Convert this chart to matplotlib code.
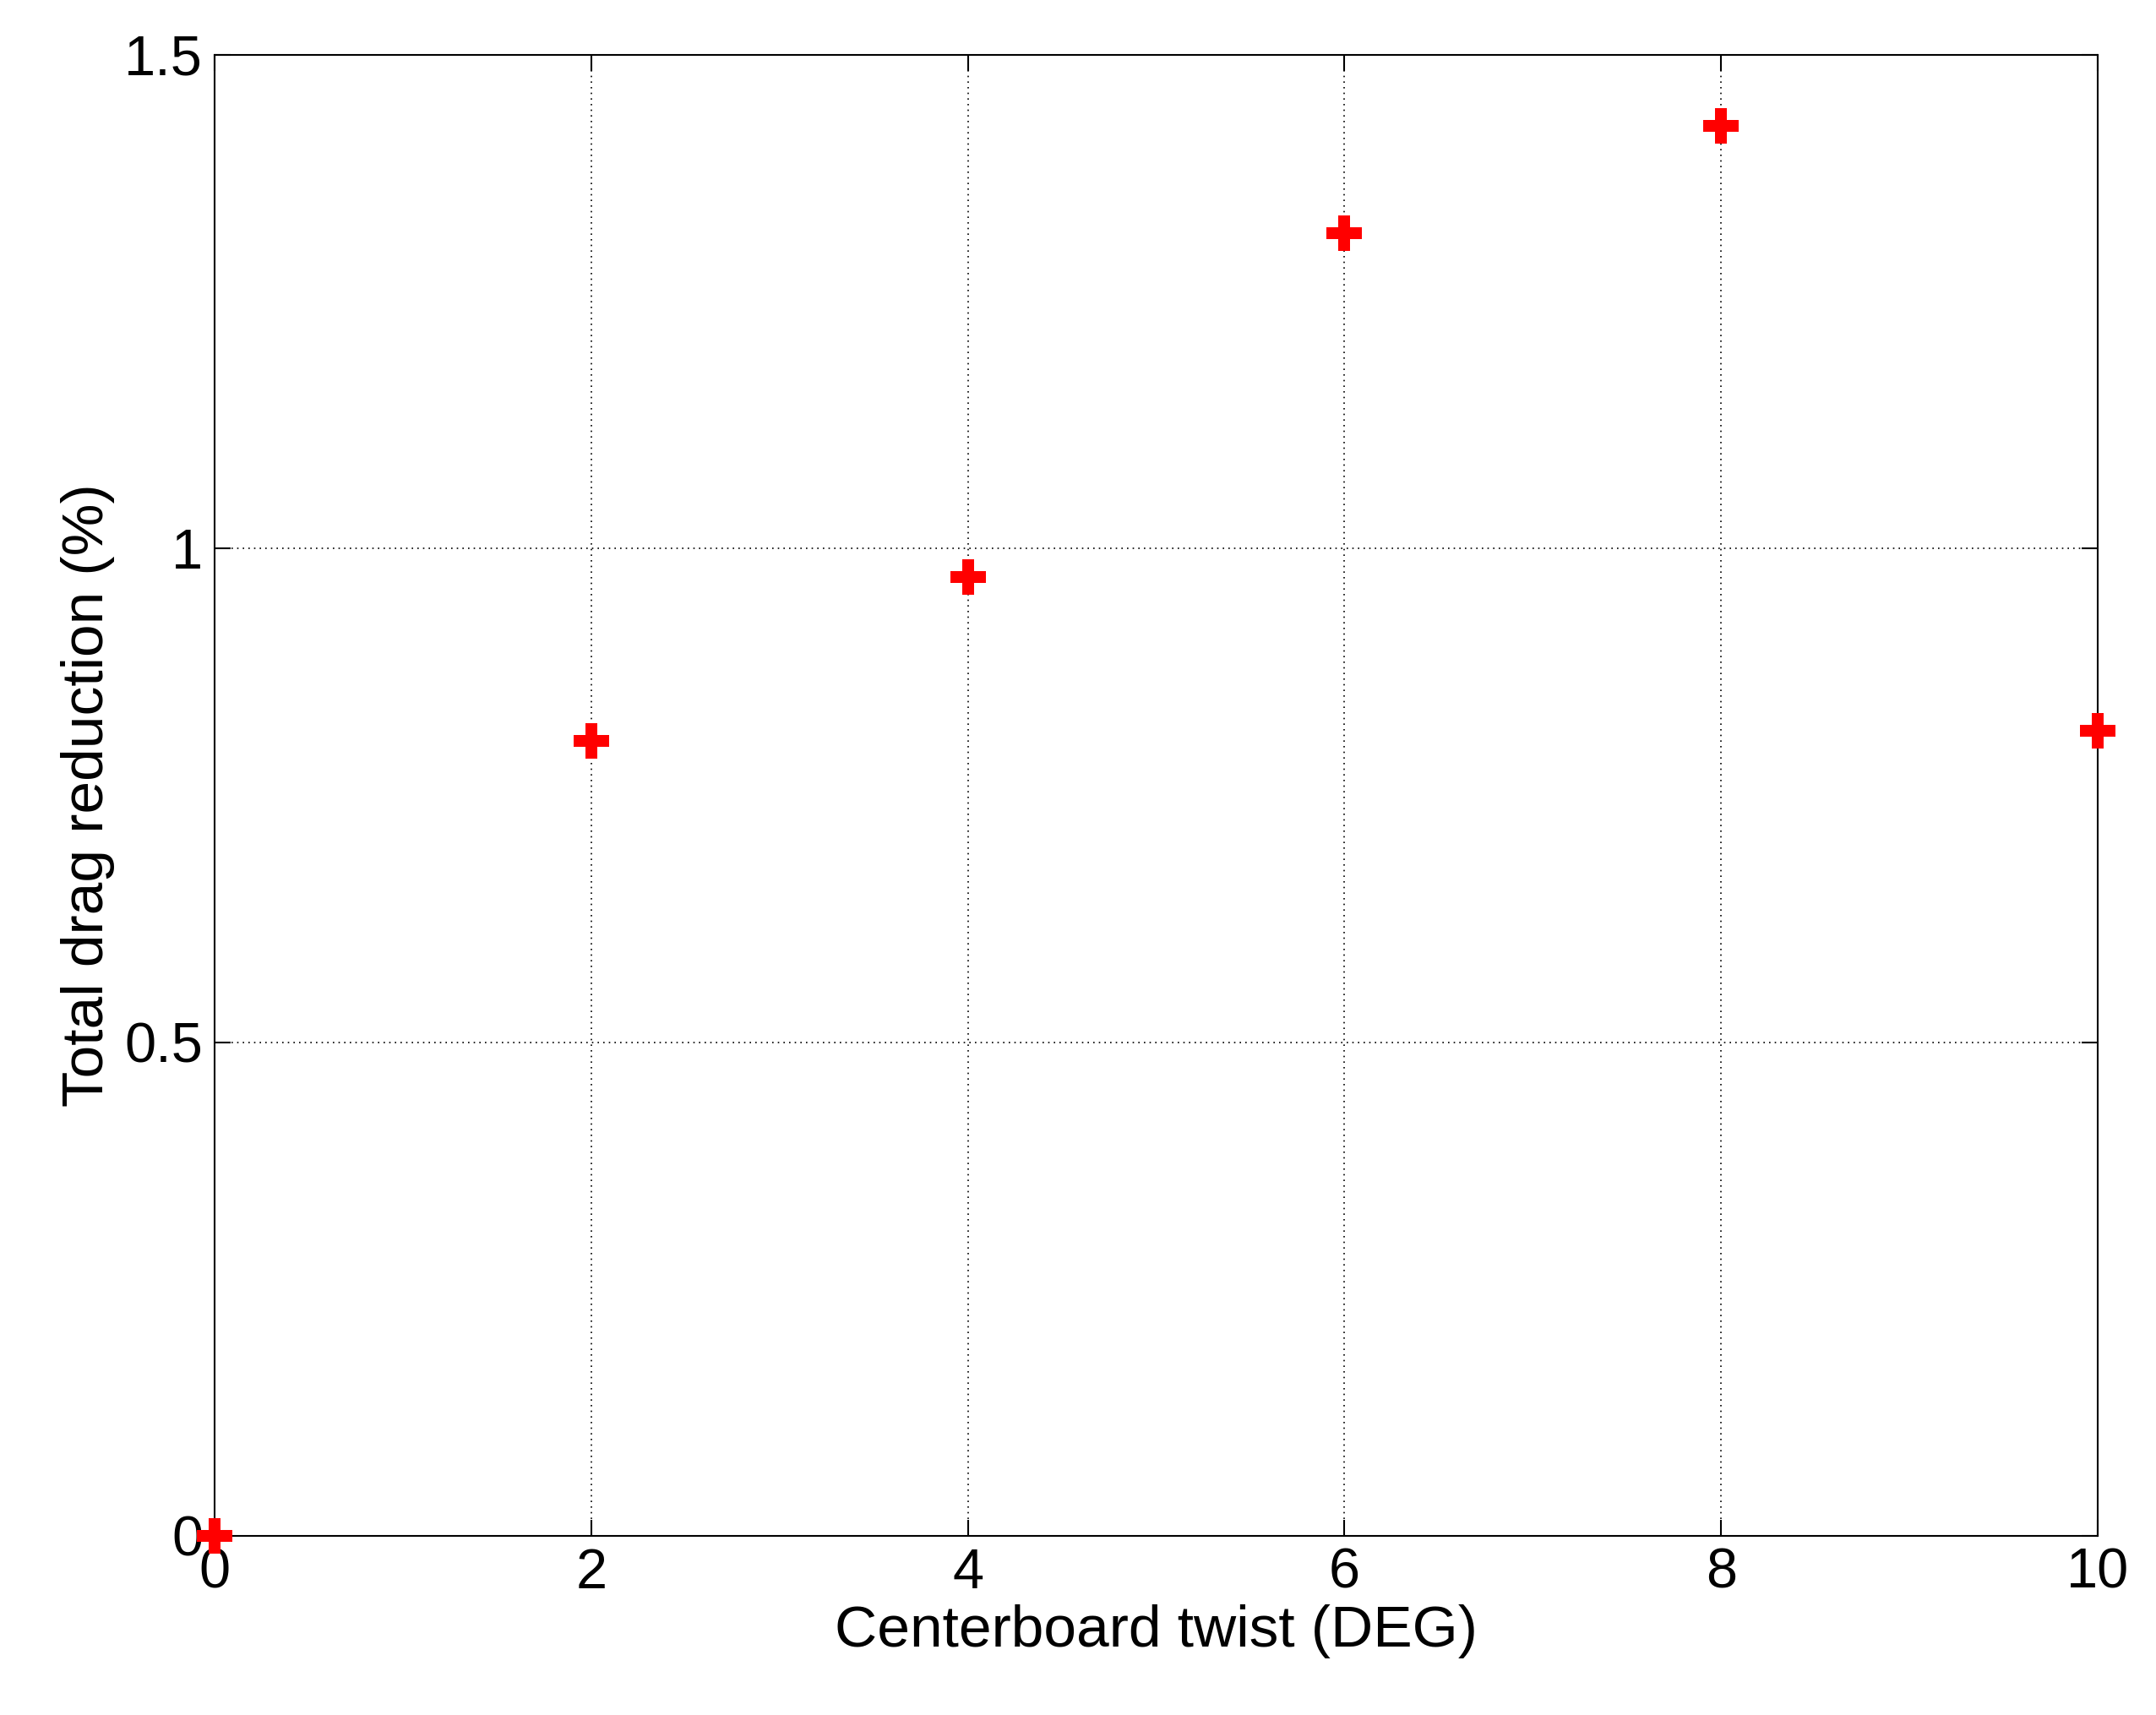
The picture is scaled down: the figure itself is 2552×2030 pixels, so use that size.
import matplotlib
matplotlib.use("Agg")
import matplotlib.pyplot as plt

twist = [0, 2, 4, 6, 8, 10]
reduction = [0.0, 0.805, 0.971, 1.319, 1.428, 0.815]
xticks = [0, 2, 4, 6, 8, 10]
yticks = [0, 0.5, 1, 1.5]
ytick_labels = ["0", "0.5", "1", "1.5"]

plt.rcParams["font.family"] = ["Liberation Sans", "DejaVu Sans"]
fig = plt.figure(figsize=(25.52, 20.30), dpi=100)
ax = fig.add_axes([0.0995, 0.1045, 0.8735, 0.8635])

ax.plot(twist, reduction, "P", color="red", markersize=30, markeredgewidth=0, clip_on=False, zorder=5)
ax.set_xlim(0, 10)
ax.set_ylim(0, 1.5)
ax.set_xticks(xticks)
ax.set_yticks(yticks)
ax.set_yticklabels(ytick_labels)
ax.grid(True, linestyle=(0, (1, 3)), color="black", linewidth=1.2)
ax.tick_params(labelsize=48, direction="in", length=14, width=1.5, top=True, right=True, pad=10)
for s in ax.spines.values():
    s.set_linewidth(1.5)
ax.set_xlabel("Centerboard twist (DEG)", fontsize=50, labelpad=4)
ax.set_ylabel("Total drag reduction (%)", fontsize=50, labelpad=8)

fig.savefig("out.png", dpi=100)
